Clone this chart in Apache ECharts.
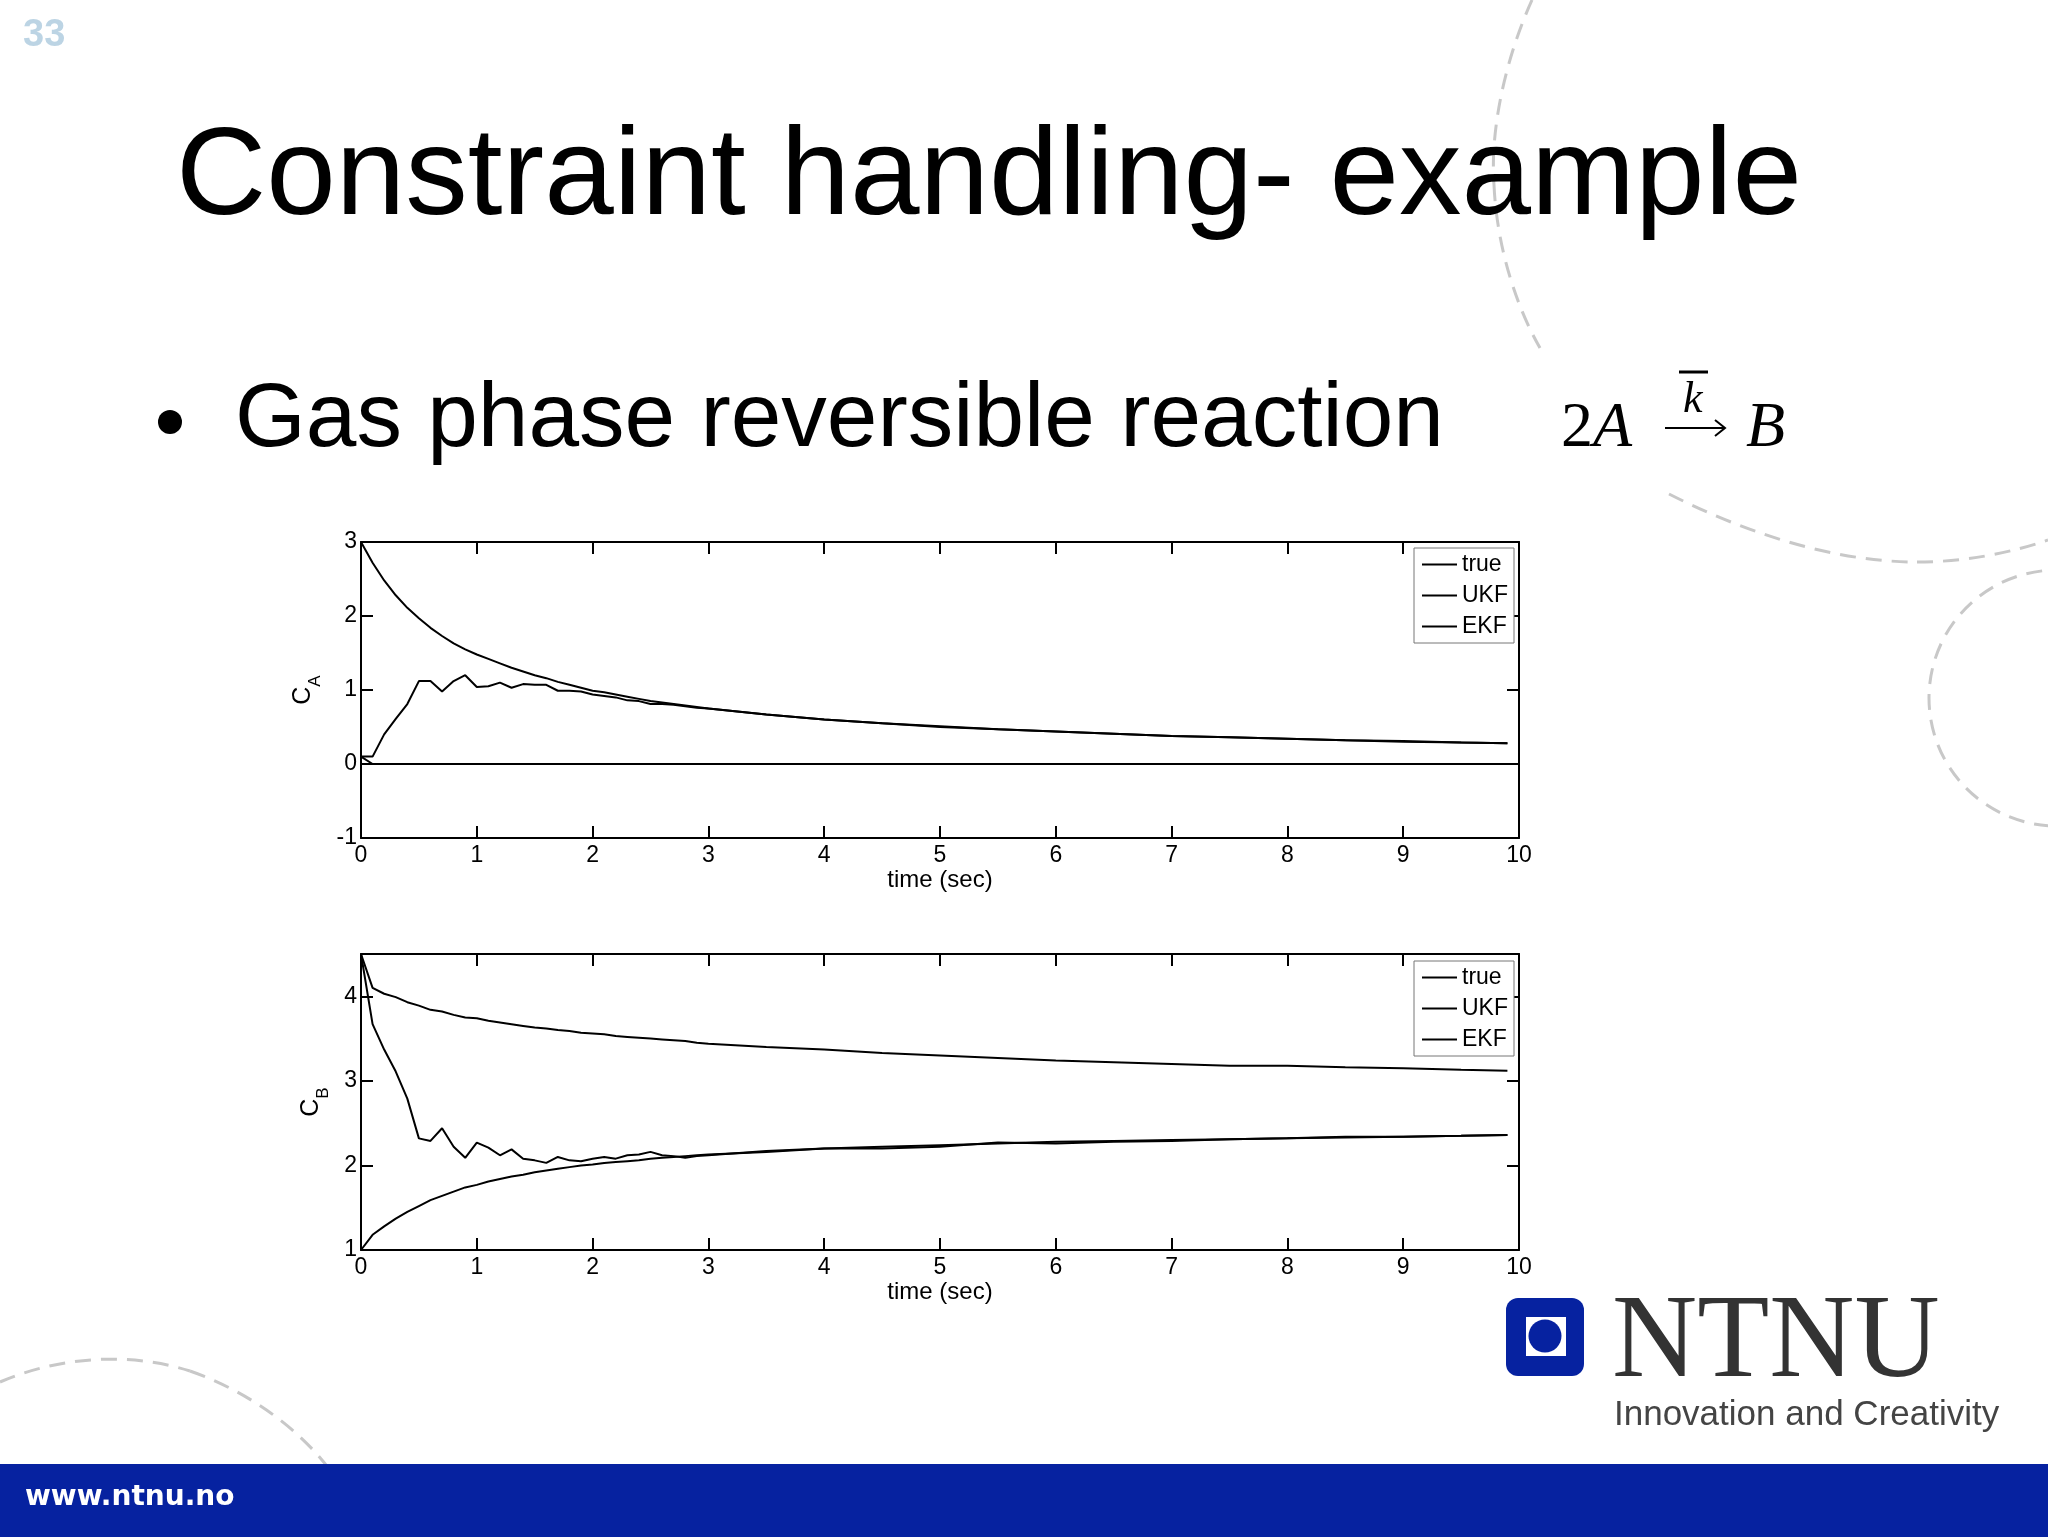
<!DOCTYPE html>
<html>
<head>
<meta charset="utf-8">
<script src="https://cdn.jsdelivr.net/npm/echarts@6/dist/echarts.min.js"></script>
<style>html,body{margin:0;padding:0;background:#fff;}#c{width:2048px;height:1537px;}</style>
</head>
<body>
<div id="c"></div>
<script>
// ---------------- data ----------------
var time = [0,0.1,0.2,0.3,0.4,0.5,0.6,0.7,0.8,0.9,1.0,1.1,1.2,1.3,1.4,1.5,1.6,1.7,1.8,1.9,2.0,2.1,2.2,2.3,2.4,2.5,2.6,2.7,2.8,2.9,3.0,3.5,4,4.5,5,5.5,6,6.5,7,7.5,8,8.5,9,9.5,9.9];
var caTrue = [3.00,2.72,2.48,2.28,2.11,1.97,1.84,1.73,1.63,1.55,1.48,1.42,1.36,1.30,1.25,1.20,1.16,1.11,1.07,1.03,0.99,0.97,0.94,0.91,0.88,0.85,0.83,0.81,0.79,0.77,0.75,0.67,0.60,0.55,0.51,0.47,0.44,0.41,0.38,0.36,0.34,0.32,0.31,0.29,0.28];
var caUKF = [0.10,0.10,0.40,0.61,0.81,1.12,1.12,0.98,1.12,1.20,1.04,1.05,1.10,1.03,1.08,1.07,1.07,0.99,0.99,0.98,0.94,0.92,0.90,0.86,0.85,0.81,0.81,0.80,0.78,0.76,0.75,0.67,0.60,0.55,0.50,0.47,0.44,0.41,0.38,0.36,0.34,0.32,0.30,0.29,0.28];
var caEKF = [0.10,0,0,0,0,0,0,0,0,0,0,0,0,0,0,0,0,0,0,0,0,0,0,0,0,0,0,0,0,0,0,0,0,0,0,0,0,0,0,0,0,0,0,0,0];
var cbTrue = [1.00,1.18,1.28,1.37,1.45,1.52,1.59,1.64,1.69,1.74,1.77,1.81,1.84,1.87,1.89,1.92,1.94,1.96,1.98,2.00,2.01,2.03,2.04,2.05,2.06,2.08,2.09,2.10,2.11,2.12,2.13,2.16,2.20,2.22,2.24,2.26,2.28,2.29,2.30,2.31,2.32,2.33,2.34,2.35,2.36];
var cbUKF = [4.50,3.67,3.37,3.11,2.79,2.32,2.29,2.44,2.22,2.09,2.27,2.21,2.12,2.19,2.08,2.06,2.03,2.10,2.06,2.05,2.08,2.10,2.08,2.12,2.13,2.16,2.12,2.11,2.09,2.11,2.12,2.17,2.20,2.20,2.22,2.27,2.26,2.28,2.29,2.31,2.32,2.34,2.34,2.35,2.36];
var cbEKF = [4.50,4.10,4.03,3.99,3.93,3.89,3.84,3.82,3.78,3.75,3.74,3.71,3.69,3.67,3.65,3.63,3.62,3.60,3.59,3.57,3.56,3.55,3.53,3.52,3.51,3.50,3.49,3.48,3.47,3.45,3.44,3.40,3.37,3.33,3.30,3.27,3.24,3.22,3.20,3.18,3.18,3.16,3.15,3.13,3.12];
var seriesNames = ['true','UKF','EKF'];
var timeRange = [0,10];
var caRange = [-1,3];
var cbRange = [1,4.5];
var caConstraint = 0;

// ---------------- helpers ----------------
function pairs(t, v){ return t.map(function(x,i){ return [x, v[i]]; }); }
var FONT = '"Liberation Sans", Arial, sans-serif';
var SERIF = '"Liberation Serif", "Times New Roman", serif';
function xAx(grid, pos, showName){
  return {
    gridIndex: grid, type:'value', position: pos, min: timeRange[0], max: timeRange[1], interval: 1,
    axisLine:{show:true, onZero:false, lineStyle:{color:'#000', width:2}},
    axisTick:{show:true, inside:true, length:12, lineStyle:{color:'#000', width:2}},
    axisLabel:{show: pos==='bottom', color:'#000', fontSize:23, fontFamily:FONT, margin:6},
    splitLine:{show:false},
    name: showName ? 'time (sec)' : '', nameLocation:'middle', nameGap:30,
    nameTextStyle:{color:'#000', fontSize:24, fontFamily:FONT}
  };
}
function yAx(grid, pos, range, name, gap){
  return {
    gridIndex: grid, type:'value', position: pos, min: range[0], max: range[1], interval: 1,
    axisLine:{show:true, onZero:false, lineStyle:{color:'#000', width:2}},
    axisTick:{show:true, inside:true, length:12, lineStyle:{color:'#000', width:2}},
    axisLabel:{show: pos==='left', color:'#000', fontSize:23, fontFamily:FONT, margin:4,
               showMaxLabel: range[1] % 1 === 0},
    splitLine:{show:false},
    name: name ? '{c|C}{s|' + name + '}' : '', nameLocation:'middle', nameGap: gap, nameRotate:90,
    nameTextStyle:{color:'#000', fontFamily:FONT,
      rich:{ c:{fontSize:25, fontFamily:FONT, color:'#000', verticalAlign:'top'},
             s:{fontSize:17, fontFamily:FONT, color:'#000', verticalAlign:'bottom', padding:[16,0,0,0]} } }
  };
}
function line(name, xi, yi, t, v, extra){
  var s = {name:name, type:'line', xAxisIndex:xi, yAxisIndex:yi, data:pairs(t, v),
    showSymbol:false, symbol:'none', color:'#000', lineStyle:{color:'#000', width:2}, animation:false, z:3};
  if (extra) for (var k in extra) s[k] = extra[k];
  return s;
}
function legendAt(left, top){
  return {left:left, top:top, orient:'vertical', data:seriesNames, icon:'rect', itemWidth:35, itemHeight:1.8,
    itemGap:8, padding:[5,6,5,8], borderColor:'#777', borderWidth:1, backgroundColor:'#fff',
    textStyle:{color:'#000', fontSize:23, fontFamily:FONT, lineHeight:23}, selectedMode:false, z:10};
}
function bez(p){
  return {type:'bezierCurve', z:-10, shape:{x1:p[0], y1:p[1], cpx1:p[2], cpy1:p[3], cpx2:p[4], cpy2:p[5], x2:p[6], y2:p[7]},
          style:{stroke:'#c8c8c8', lineWidth:3, fill:null, lineDash:[16,10]}};
}

var blue = '#0622a0';

var option = {
  animation:false,
  backgroundColor:'#fff',
  grid:[{left:361, top:542, width:1158, height:296},{left:361, top:954, width:1158, height:296}],
  xAxis:[xAx(0,'bottom',true), xAx(0,'top',false), xAx(1,'bottom',true), xAx(1,'top',false)],
  yAxis:[yAx(0,'left',caRange,'A',37), yAx(0,'right',caRange,null,0), yAx(1,'left',cbRange,'B',29), yAx(1,'right',cbRange,null,0)],
  legend:[legendAt(1414,548), legendAt(1414,961)],
  series:[
    line('true',0,0,time,caTrue),
    line('UKF',0,0,time,caUKF),
    line('EKF',0,0,time,caEKF,{markLine:{symbol:'none', silent:true, label:{show:false},
        lineStyle:{color:'#000', type:'solid', width:2}, data:[{yAxis:caConstraint}]}}),
    line('true',2,2,time,cbTrue),
    line('UKF',2,2,time,cbUKF),
    line('EKF',2,2,time,cbEKF)
  ],
  graphic:[
    // decorative dashed arcs
    bez([1532,0, 1505,60, 1490,130, 1494,185]),
    bez([1494,185, 1497,250, 1518,310, 1540,348]),
    bez([1669,494, 1740,530, 1830,562, 1917,562]),
    bez([1917,562, 1965,562, 2010,553, 2048,540]),
    {type:'circle', z:-10, shape:{cx:2057, cy:698, r:128}, style:{stroke:'#c8c8c8', lineWidth:3, fill:null, lineDash:[16,10]}},
    // bottom bar
    {type:'rect', z:-5, shape:{x:0, y:1464, width:2048, height:73}, style:{fill:blue}},
    bez([0,1382, 60,1356, 130,1352, 190,1371]),
    bez([190,1371, 250,1392, 300,1430, 330,1470]),
    bez([330,1470, 345,1495, 352,1515, 358,1537]),
    {type:'text', x:25, y:1498, style:{text:'www.ntnu.no', fill:'#fff', font:'bold 28px "DejaVu Sans", sans-serif', verticalAlign:'middle'}},
    // page number
    {type:'text', x:23, y:36, style:{text:'33', fill:'#bcd4e4', font:'bold 38px ' + FONT, verticalAlign:'middle'}},
    // title
    {type:'text', x:176, y:180, style:{text:'Constraint handling- example', fill:'#000', font:'125px ' + FONT, verticalAlign:'middle'}},
    // bullet
    {type:'circle', shape:{cx:170, cy:422, r:12}, style:{fill:'#000'}},
    {type:'text', x:235, y:421, style:{text:'Gas phase reversible reaction', fill:'#000', font:'91px ' + FONT, verticalAlign:'middle'}},
    // formula 2A -k-> B
    {type:'text', x:1561, y:429, style:{text:'2', fill:'#000', font:'64px ' + SERIF, verticalAlign:'middle'}},
    {type:'text', x:1593, y:429, style:{text:'A', fill:'#000', font:'italic 64px ' + SERIF, verticalAlign:'middle'}},
    {type:'line', shape:{x1:1665, y1:428, x2:1725, y2:428}, style:{stroke:'#000', lineWidth:2}},
    {type:'polyline', shape:{points:[[1715,420],[1725,428],[1715,436]]}, style:{stroke:'#000', lineWidth:2, fill:null}},
    {type:'text', x:1683, y:400, style:{text:'k', fill:'#000', font:'italic 44px ' + SERIF, verticalAlign:'middle'}},
    {type:'line', shape:{x1:1679, y1:372, x2:1708, y2:372}, style:{stroke:'#000', lineWidth:3}},
    {type:'text', x:1746, y:429, style:{text:'B', fill:'#000', font:'italic 64px ' + SERIF, verticalAlign:'middle'}},
    // NTNU logo
    {type:'rect', shape:{x:1506, y:1298, width:78, height:78, r:12}, style:{fill:blue}},
    {type:'rect', shape:{x:1526, y:1317, width:40, height:39}, style:{fill:'#fff'}},
    {type:'circle', shape:{cx:1545, cy:1336, r:16.5}, style:{fill:blue}},
    {type:'text', x:1612, y:1345, style:{text:'NTNU', fill:'#333', font:'118px ' + SERIF, verticalAlign:'middle'}},
    {type:'text', x:1614, y:1415, style:{text:'Innovation and Creativity', fill:'#444', font:'35px ' + FONT, verticalAlign:'middle'}}
  ]
};
var chart = echarts.init(document.getElementById('c'), null, {renderer:'canvas', width:2048, height:1537});
chart.setOption(option);
</script>
</body>
</html>
